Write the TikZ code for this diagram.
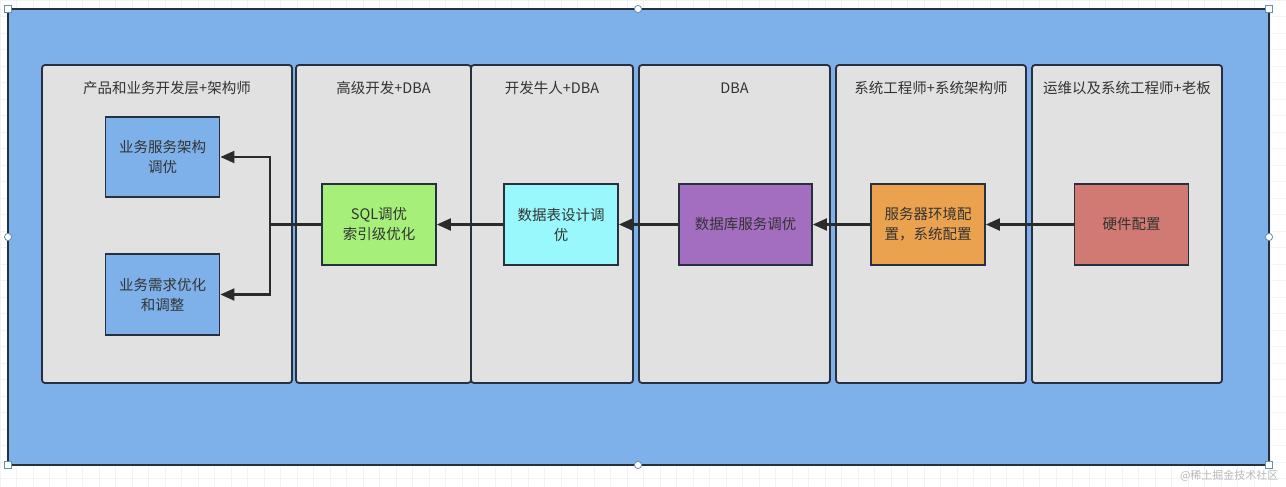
\documentclass[tikz,border=0pt]{standalone}
\usepackage{fontspec}
\setmainfont{Noto Sans CJK SC}
\usetikzlibrary{arrows.meta}
\definecolor{outerblue}{HTML}{7EB1EA}
\definecolor{lanegray}{HTML}{E1E1E1}
\definecolor{edge}{HTML}{27313D}
\definecolor{txt}{HTML}{333333}
\definecolor{cgreen}{HTML}{A6F07A}
\definecolor{ccyan}{HTML}{99F8FB}
\definecolor{cpurple}{HTML}{A36DC0}
\definecolor{corange}{HTML}{EBA24F}
\definecolor{cred}{HTML}{D17A73}
\definecolor{gridc}{HTML}{F3F3F3}
\definecolor{linec}{HTML}{2B2B2B}
\tikzset{
  lane/.style={draw=edge, line width=1.8pt, fill=lanegray, rounded corners=3pt},
  lanetitle/.style={text=txt, font=\fontsize{14.5}{17}\selectfont, anchor=center},
  task/.style={draw=edge, line width=1.8pt, minimum width=114pt, minimum height=81pt, inner sep=0pt,
     text=txt, font=\fontsize{14.5}{20}\selectfont, align=center},
  flow/.style={draw=linec, line width=2.2pt, -{Triangle[length=14pt,width=12pt]}},
  handle/.style={draw=outerblue!80!black, fill=white, line width=0.8pt}
}
\begin{document}
\begin{tikzpicture}[x=1pt,y=-1pt]
\useasboundingbox (0,0) rectangle (1286,487);
\fill[white] (0,0) rectangle (1286,487);
\foreach \gx in {0,16.5,...,1286} \draw[gridc, line width=0.6pt] (\gx,0) -- (\gx,487);
\foreach \gy in {0,16.5,...,487} \draw[gridc, line width=0.6pt] (0,\gy) -- (1286,\gy);
% outer container
\draw[draw=edge, line width=1.8pt, fill=outerblue] (8,9) rectangle (1269,465);
% lanes
\draw[lane] (42,65) rectangle (292,383);
\draw[lane] (296,65) rectangle (471,383);
\draw[lane] (471,65) rectangle (633,383);
\draw[lane] (639,65) rectangle (830,383);
\draw[lane] (836,65) rectangle (1026,383);
\draw[lane] (1032,65) rectangle (1222,383);
\node[lanetitle] (t1) at (167,88) {产品和业务开发层+架构师};
\node[lanetitle] (t2) at (383.5,88) {高级开发+DBA};
\node[lanetitle] (t3) at (552,88) {开发牛人+DBA};
\node[lanetitle] (t4) at (734.5,88) {DBA};
\node[lanetitle] (t5) at (931,88) {系统工程师+系统架构师};
\node[lanetitle] (t6) at (1127,88) {运维以及系统工程师+老板};
% tasks
\node[task, fill=outerblue, minimum height=80pt] (ywfw) at (162.5,157) {业务服务架构\\调优};
\node[task, fill=outerblue] (ywxq) at (162.5,294.5) {业务需求优化\\和调整};
\node[task, fill=cgreen] (sql) at (379,224.5) {SQL调优\\索引级优化};
\node[task, fill=ccyan] (sjb) at (561,224.5) {数据表设计调\\优};
\node[task, fill=cpurple, minimum width=133pt] (sjk) at (745.5,224.5) {数据库服务调优};
\node[task, fill=corange] (fwq) at (928,224.5) {服务器环境配\\置，系统配置};
\node[task, fill=cred] (yj) at (1131.5,224.5) {硬件配置};
% connectors
\coordinate (split) at (270,224.5);
\draw[flow] (yj.west) -- (fwq.east);
\draw[flow] (fwq.west) -- (sjk.east);
\draw[flow] (sjk.west) -- (sjb.east);
\draw[flow] (sjb.west) -- (sql.east);
\draw[flow] (sql.west) -- (split) |- (ywfw.east);
\draw[flow] (split) |- (ywxq.east);
% selection handles
\foreach \hx/\hy in {8/9,1269/9,8/465,1269/465}
  \draw[handle] (\hx-3.5,\hy-3.5) rectangle (\hx+3.5,\hy+3.5);
\foreach \hx/\hy in {638/9,8/237,1269/237,638/465}
  \draw[handle] (\hx,\hy) circle (3.6pt);
% watermark
\node[text=gray!55, font=\fontsize{11}{13}\selectfont, anchor=east] (wm) at (1282,476) {@稀土掘金技术社区};
\end{tikzpicture}
\end{document}
